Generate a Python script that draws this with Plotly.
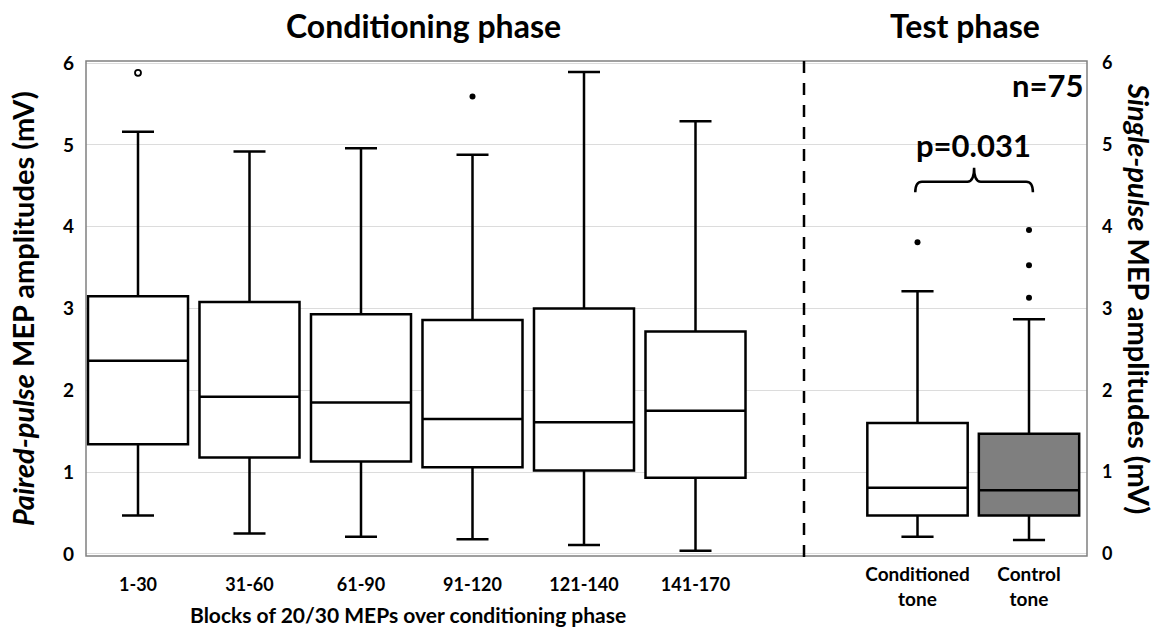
import plotly.graph_objects as go

# ---------------- data ----------------
cond_categories = ["1-30", "31-60", "61-90", "91-120", "121-140", "141-170"]
cond_q1 = [1.34, 1.18, 1.13, 1.06, 1.02, 0.93]
cond_median = [2.36, 1.92, 1.85, 1.65, 1.61, 1.75]
cond_q3 = [3.15, 3.08, 2.93, 2.86, 3.00, 2.72]
cond_lower = [0.47, 0.25, 0.21, 0.18, 0.11, 0.04]
cond_upper = [5.16, 4.92, 4.96, 4.88, 5.89, 5.29]
cond_outlier_idx = [0, 3]
cond_outlier_val = [5.88, 5.59]
cond_outlier_hollow = [True, False]

test_categories = ["Conditioned<br>tone", "Control<br>tone"]
test_q1 = [0.47, 0.47]
test_median = [0.81, 0.78]
test_q3 = [1.60, 1.47]
test_lower = [0.21, 0.17]
test_upper = [3.21, 2.87]
test_outlier_idx = [0, 1, 1, 1]
test_outlier_val = [3.81, 3.13, 3.53, 3.96]
test_fill = ["white", "#7f7f7f"]

y_ticks = [0, 1, 2, 3, 4, 5, 6]
p_text = "p=0.031"
n_text = "n=75"

FONT = "Lato"
W, H = 1162, 631
L, R, T, B = 86, 75, 61, 75
PW, PH = W - L - R, H - T - B
split_px = 804
split = (split_px - L) / PW


def px(xp):
    return (xp - L) / PW


def py(yp):
    return (H - B - yp) / PH


fig = go.Figure()

fig.add_trace(go.Box(
    x=list(range(len(cond_categories))), q1=cond_q1, median=cond_median, q3=cond_q3,
    lowerfence=cond_lower, upperfence=cond_upper, boxpoints=False,
    width=0.897, whiskerwidth=0.32, fillcolor="white",
    line=dict(color="black", width=2.5), xaxis="x", yaxis="y", showlegend=False))

for i, v, hollow in zip(cond_outlier_idx, cond_outlier_val, cond_outlier_hollow):
    fig.add_trace(go.Scatter(
        x=[i], y=[v], mode="markers", xaxis="x", yaxis="y", showlegend=False,
        marker=dict(size=6, color="white" if hollow else "black",
                    line=dict(color="black", width=1.8 if hollow else 0))))

for i in range(len(test_categories)):
    fig.add_trace(go.Box(
        x=[i], q1=[test_q1[i]], median=[test_median[i]], q3=[test_q3[i]],
        lowerfence=[test_lower[i]], upperfence=[test_upper[i]], boxpoints=False,
        width=0.9, whiskerwidth=0.32, fillcolor=test_fill[i],
        line=dict(color="black", width=2.5), xaxis="x2", yaxis="y2", showlegend=False))

fig.add_trace(go.Scatter(
    x=test_outlier_idx, y=test_outlier_val, mode="markers", xaxis="x2", yaxis="y2",
    showlegend=False, marker=dict(size=6, color="black")))

yr = [-0.025, 6.025]
pitch = 111.5
x_range = [-(138 - L) / pitch, 5 + (split_px - 695.5) / pitch]
x2_range = [-(917.5 - split_px) / pitch, 1 + (W - R - 1029) / pitch]

axis_common = dict(showline=False, zeroline=False, ticks="", automargin=False)

fig.update_layout(
    width=W, height=H, margin=dict(l=L, r=R, t=T, b=B, pad=0),
    paper_bgcolor="white", plot_bgcolor="white",
    font=dict(family=FONT, color="black"),
    xaxis=dict(domain=[0, split], range=x_range, tickvals=list(range(6)),
               ticktext=cond_categories, showgrid=False,
               tickfont=dict(size=18, weight="bold", family=FONT),
               ticklabelstandoff=16, **axis_common),
    xaxis2=dict(domain=[split, 1], range=x2_range, tickvals=[0, 1],
                ticktext=test_categories, showgrid=False, anchor="y2",
                tickfont=dict(size=19, weight="bold", family=FONT),
                ticklabelstandoff=5, **axis_common),
    yaxis=dict(range=yr, tickvals=y_ticks, showgrid=True, gridcolor="#dcdcdc",
               gridwidth=1, anchor="x",
               tickfont=dict(size=19, weight="bold", family=FONT),
               ticklabelstandoff=11, **axis_common),
    yaxis2=dict(range=yr, tickvals=y_ticks, showgrid=True, gridcolor="#dcdcdc",
                gridwidth=1, anchor="x2", side="right",
                tickfont=dict(size=18, weight="bold", family=FONT),
                ticklabelstandoff=14, **axis_common),
)

fig.add_shape(type="rect", xref="paper", yref="paper", x0=0, x1=1, y0=0, y1=1,
              line=dict(color="#808080", width=1.5), layer="above")
fig.add_shape(type="line", xref="paper", yref="paper", x0=split, x1=split,
              y0=py(557), y1=py(57), line=dict(color="black", width=2.5, dash="12px,10px"))

bx0, bx1 = -0.02, 1.035
bm = (bx0 + bx1) / 2
yl, ye, yt = 4.55, 4.42, 4.72
d = 0.06
path = (f"M {bx0},{ye} Q {bx0},{yl} {bx0 + d},{yl} L {bm - d},{yl} "
        f"Q {bm},{yl} {bm},{yt} Q {bm},{yl} {bm + d},{yl} L {bx1 - d},{yl} "
        f"Q {bx1},{yl} {bx1},{ye}")
fig.add_shape(type="path", xref="x2", yref="y2", path=path,
              line=dict(color="black", width=2.5))

ann = [
    dict(text="<b>Conditioning phase</b>", x=px(423), y=py(26), xref="paper", yref="paper",
         font=dict(size=32, family=FONT)),
    dict(text="<b>Test phase</b>", x=px(965), y=py(26), xref="paper", yref="paper",
         font=dict(size=32, family=FONT)),
    dict(text="<b><i>Paired-pulse</i> MEP amplitudes (mV)</b>", x=px(22), y=py(309),
         xref="paper", yref="paper", textangle=-90, font=dict(size=29, family=FONT)),
    dict(text="<b><i>Single-pulse</i> MEP amplitudes (mV)</b>", x=px(1140), y=py(298),
         xref="paper", yref="paper", textangle=90, font=dict(size=29, family=FONT)),
    dict(text="Blocks of 20/30 MEPs over conditioning phase", x=px(408), y=py(614),
         xref="paper", yref="paper", font=dict(size=21, family=FONT, weight="bold")),
    dict(text=f"<b>{n_text}</b>", x=1.5, y=5.73, xref="x2", yref="y2", xanchor="right",
         font=dict(size=31, family=FONT)),
    dict(text=f"<b>{p_text}</b>", x=0.5, y=5.0, xref="x2", yref="y2",
         font=dict(size=31, family=FONT)),
]
for a in ann:
    a.setdefault("xanchor", "center")
    a.setdefault("yanchor", "middle")
    a["showarrow"] = False
fig.update_layout(annotations=ann)

fig.write_html("out.html")
